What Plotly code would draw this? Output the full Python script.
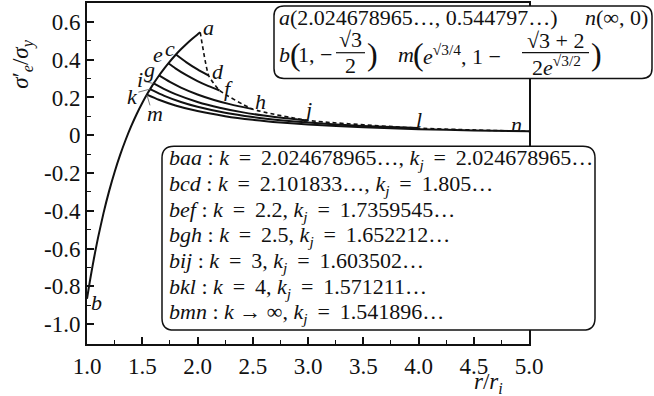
import plotly.graph_objects as go

# ---------------- data ----------------
r_main = [1.0, 1.025, 1.05, 1.075, 1.1, 1.15, 1.2, 1.25, 1.3, 1.35, 1.4, 1.45, 1.5,
          1.5419, 1.5712, 1.6035, 1.652, 1.7, 1.736, 1.805, 1.85, 1.9, 1.95, 2.0, 2.0247]
y_main = [-0.8660, -0.7761, -0.6925, -0.6147, -0.5421, -0.4110, -0.2958, -0.1942, -0.1041,
          -0.0239, 0.0480, 0.1125, 0.1707, 0.2151, 0.2441, 0.2743, 0.3164, 0.3543, 0.3808,
          0.4273, 0.4548, 0.4831, 0.5093, 0.5335, 0.5448]

r_cd = [1.805, 1.9, 2.0, 2.1018]
y_cd = [0.4273, 0.3857, 0.3481, 0.3152]
r_ef = [1.736, 1.8, 1.9, 2.0, 2.1, 2.2]
y_ef = [0.3808, 0.3542, 0.3179, 0.2869, 0.2602, 0.2371]
r_gh = [1.652, 1.75, 1.85, 2.0, 2.15, 2.3, 2.5]
y_gh = [0.3164, 0.2820, 0.2524, 0.2159, 0.1868, 0.1633, 0.1382]
r_ij = [1.6035, 1.7, 1.8, 2.0, 2.2, 2.4, 2.6, 2.8, 3.0]
y_ij = [0.2743, 0.2440, 0.2177, 0.1763, 0.1457, 0.1224, 0.1043, 0.0900, 0.0784]
r_kl = [1.5712, 1.7, 1.85, 2.0, 2.25, 2.5, 2.75, 3.0, 3.5, 4.0]
y_kl = [0.2441, 0.2085, 0.1761, 0.1507, 0.1190, 0.0964, 0.0797, 0.0670, 0.0492, 0.0377]
r_mn = [1.5419, 1.65, 1.8, 2.0, 2.25, 2.5, 2.75, 3.0, 3.5, 4.0, 4.5, 5.0]
y_mn = [0.2151, 0.1878, 0.1578, 0.1279, 0.1010, 0.0818, 0.0676, 0.0568, 0.0417, 0.0320, 0.0253, 0.0205]

r_dash = [2.0247, 2.1018, 2.2, 2.5, 3.0, 4.0, 5.0]
y_dash = [0.5448, 0.3152, 0.2371, 0.1382, 0.0784, 0.0377, 0.0205]

point_names = ["a", "c", "e", "g", "i", "k", "m", "d", "f", "h", "j", "l", "n", "b"]
point_r = [2.095, 1.751, 1.643, 1.570, 1.480, 1.416, 1.615, 2.186, 2.285, 2.566, 2.991, 4.005, 4.891, 1.09]
point_y = [0.568, 0.458, 0.426, 0.347, 0.295, 0.205, 0.116, 0.337, 0.247, 0.179, 0.137, 0.084, 0.058, -0.884]

x_ticks = [1.0, 1.5, 2.0, 2.5, 3.0, 3.5, 4.0, 4.5, 5.0]
x_ticktext = ["1.0", "1.5", "2.0", "2.5", "3.0", "3.5", "4.0", "4.5", "5.0"]
y_ticks = [-1.0, -0.8, -0.6, -0.4, -0.2, 0.0, 0.2, 0.4, 0.6]
y_ticktext = ["-1.0", "-0.8", "-0.6", "-0.4", "-0.2", "0", "0.2", "0.4", "0.6"]

EQ = "\u2009=\u2009"
KJ = "<i>k</i><sub><i>j</i></sub>"
legend_lines = [
    f"<i>baa</i> : <i>k</i> {EQ} 2.024678965…, {KJ} {EQ} 2.024678965…",
    f"<i>bcd</i> : <i>k</i> {EQ} 2.101833…, {KJ} {EQ} 1.805…",
    f"<i>bef</i> : <i>k</i> {EQ} 2.2, {KJ} {EQ} 1.7359545…",
    f"<i>bgh</i> : <i>k</i> {EQ} 2.5, {KJ} {EQ} 1.652212…",
    f"<i>bij</i> : <i>k</i> {EQ} 3, {KJ} {EQ} 1.603502…",
    f"<i>bkl</i> : <i>k</i> {EQ} 4, {KJ} {EQ} 1.571211…",
    f"<i>bmn</i> : <i>k</i> → ∞, {KJ} {EQ} 1.541896…",
]

# ---------------- layout helpers (pixel -> paper) ----------------
W, H = 654, 396
L, R, T, B = 87, 529, 1, 344
FONT = "Liberation Serif, DejaVu Serif, serif"
INK = "#111111"


def px(x):
    return (x - L) / (R - L)


def py(y):
    return (B - y) / (B - T)


def rrect(x0, y0, x1, y1, rad):
    pts = [("M", x0 + rad, y0), ("L", x1 - rad, y0), ("Q", x1, y0, x1, y0 + rad),
           ("L", x1, y1 - rad), ("Q", x1, y1, x1 - rad, y1), ("L", x0 + rad, y1),
           ("Q", x0, y1, x0, y1 - rad), ("L", x0, y0 + rad), ("Q", x0, y0, x0 + rad, y0)]
    s = ""
    for p in pts:
        cmd = p[0]
        coords = p[1:]
        parts = []
        for i in range(0, len(coords), 2):
            parts.append(f"{px(coords[i]):.5f},{py(coords[i+1]):.5f}")
        s += cmd + " " + " ".join(parts) + " "
    return s + "Z"


fig = go.Figure()
for rr, yy in [(r_main, y_main), (r_cd, y_cd), (r_ef, y_ef), (r_gh, y_gh),
               (r_ij, y_ij), (r_kl, y_kl), (r_mn, y_mn)]:
    fig.add_trace(go.Scatter(x=rr, y=yy, mode="lines",
                             line=dict(color=INK, width=2, shape="spline", smoothing=0.6),
                             hoverinfo="skip"))
fig.add_trace(go.Scatter(x=r_dash, y=y_dash, mode="lines",
                         line=dict(color=INK, width=1.6, dash="4px,3px", shape="spline", smoothing=0.5),
                         hoverinfo="skip"))

annotations = []
for name, xr, yv in zip(point_names, point_r, point_y):
    annotations.append(dict(x=xr, y=yv, xref="x", yref="y", text=f"<i>{name}</i>", showarrow=False,
                            font=dict(family=FONT, size=22, color=INK), xanchor="center", yanchor="middle"))

# bottom legend box text
line_y = [158.3, 184.2, 210.0, 235.8, 261.6, 287.4, 313.2]
for txt, yy in zip(legend_lines, line_y):
    annotations.append(dict(x=px(167), y=py(yy), xref="paper", yref="paper", text=txt, showarrow=False,
                            font=dict(family=FONT, size=22, color=INK), xanchor="left", yanchor="middle"))


def ann(x, y, text, size=22, xanchor="left"):
    annotations.append(dict(x=px(x), y=py(y), xref="paper", yref="paper", text=text, showarrow=False,
                            font=dict(family=FONT, size=size, color=INK), xanchor=xanchor, yanchor="middle"))


# top box text
ann(277, 16, "<i>a</i>(2.024678965…, 0.544797…)")
ann(583, 16, "<i>n</i>(∞, 0)")
ann(277, 53, "<i>b</i>")
ann(288, 52, "(", size=32)
ann(296, 53, "1, −")
ann(350, 38, "√3", xanchor="center")
ann(350, 64, "2", xanchor="center")
ann(365, 52, ")", size=32)
ann(396, 53, "<i>m</i>")
ann(411, 52, "(", size=32)
ann(421, 53, "<i>e</i><sup>√3/4</sup>, 1 −")
ann(555, 39, "√3 + 2", xanchor="center")
ann(556, 64, "2<i>e</i><sup>√3/2</sup>", xanchor="center")
ann(589, 52, ")", size=32)

# axis titles
annotations.append(dict(x=px(23), y=py(63), xref="paper", yref="paper", xanchor="center", yanchor="middle",
                        text="<i>σ</i>′<sub><i>e</i></sub>/<i>σ</i><sub><i>y</i></sub>", textangle=-90,
                        showarrow=False, font=dict(family=FONT, size=23, color=INK)))
annotations.append(dict(x=px(488), y=py(383), xref="paper", yref="paper", xanchor="center", yanchor="middle",
                        text="<i>r</i>/<i>r</i><sub><i>i</i></sub>", showarrow=False,
                        font=dict(family=FONT, size=23, color=INK)))

shapes = [
    dict(type="path", xref="paper", yref="paper", path=rrect(274, 4, 652, 77, 10),
         line=dict(color=INK, width=1.5), fillcolor="white", layer="above"),
    dict(type="path", xref="paper", yref="paper", path=rrect(162, 145, 595, 330, 12),
         line=dict(color=INK, width=1.5), fillcolor="white", layer="above"),
    dict(type="line", xref="paper", yref="paper", x0=px(336), x1=px(365), y0=py(51), y1=py(51),
         line=dict(color=INK, width=1.2), layer="above"),
    dict(type="line", xref="paper", yref="paper", x0=px(522), x1=px(589), y0=py(51), y1=py(51),
         line=dict(color=INK, width=1.2), layer="above"),
    # leader lines for labels
    dict(type="line", xref="x", yref="y", x0=1.525, y0=0.284, x1=1.600, y1=0.274,
         line=dict(color="#777777", width=1)),
    dict(type="line", xref="x", yref="y", x0=1.465, y0=0.228, x1=1.568, y1=0.244,
         line=dict(color="#777777", width=1)),
    dict(type="line", xref="x", yref="y", x0=1.543, y0=0.212, x1=1.570, y1=0.158,
         line=dict(color="#777777", width=1)),
]

axis_common = dict(showgrid=False, zeroline=False, showline=True, linecolor=INK, linewidth=2,
                   mirror=True, ticks="inside", ticklen=7, tickwidth=1.5, tickcolor=INK,
                   tickfont=dict(family=FONT, size=23, color=INK))

fig.update_layout(
    width=W, height=H,
    margin=dict(l=L, r=W - R, t=T, b=H - B, pad=0),
    paper_bgcolor="white", plot_bgcolor="white",
    showlegend=False,
    font=dict(family=FONT, color=INK),
    xaxis=dict(range=[1.0, 5.0], tickvals=x_ticks, ticktext=x_ticktext,
               minor=dict(ticks="inside", ticklen=4, tickwidth=1.2, tickcolor=INK, dtick=0.25, tick0=1.0),
               **axis_common),
    yaxis=dict(range=[-1.105, 0.70], tickvals=y_ticks, ticktext=y_ticktext,
               minor=dict(ticks="inside", ticklen=4, tickwidth=1.2, tickcolor=INK, dtick=0.1, tick0=0.0),
               **axis_common),
    annotations=annotations,
    shapes=shapes,
)

fig.write_html("out.html", config={"displayModeBar": False},
               post_script="document.body.style.margin='0';document.body.style.padding='0';")
